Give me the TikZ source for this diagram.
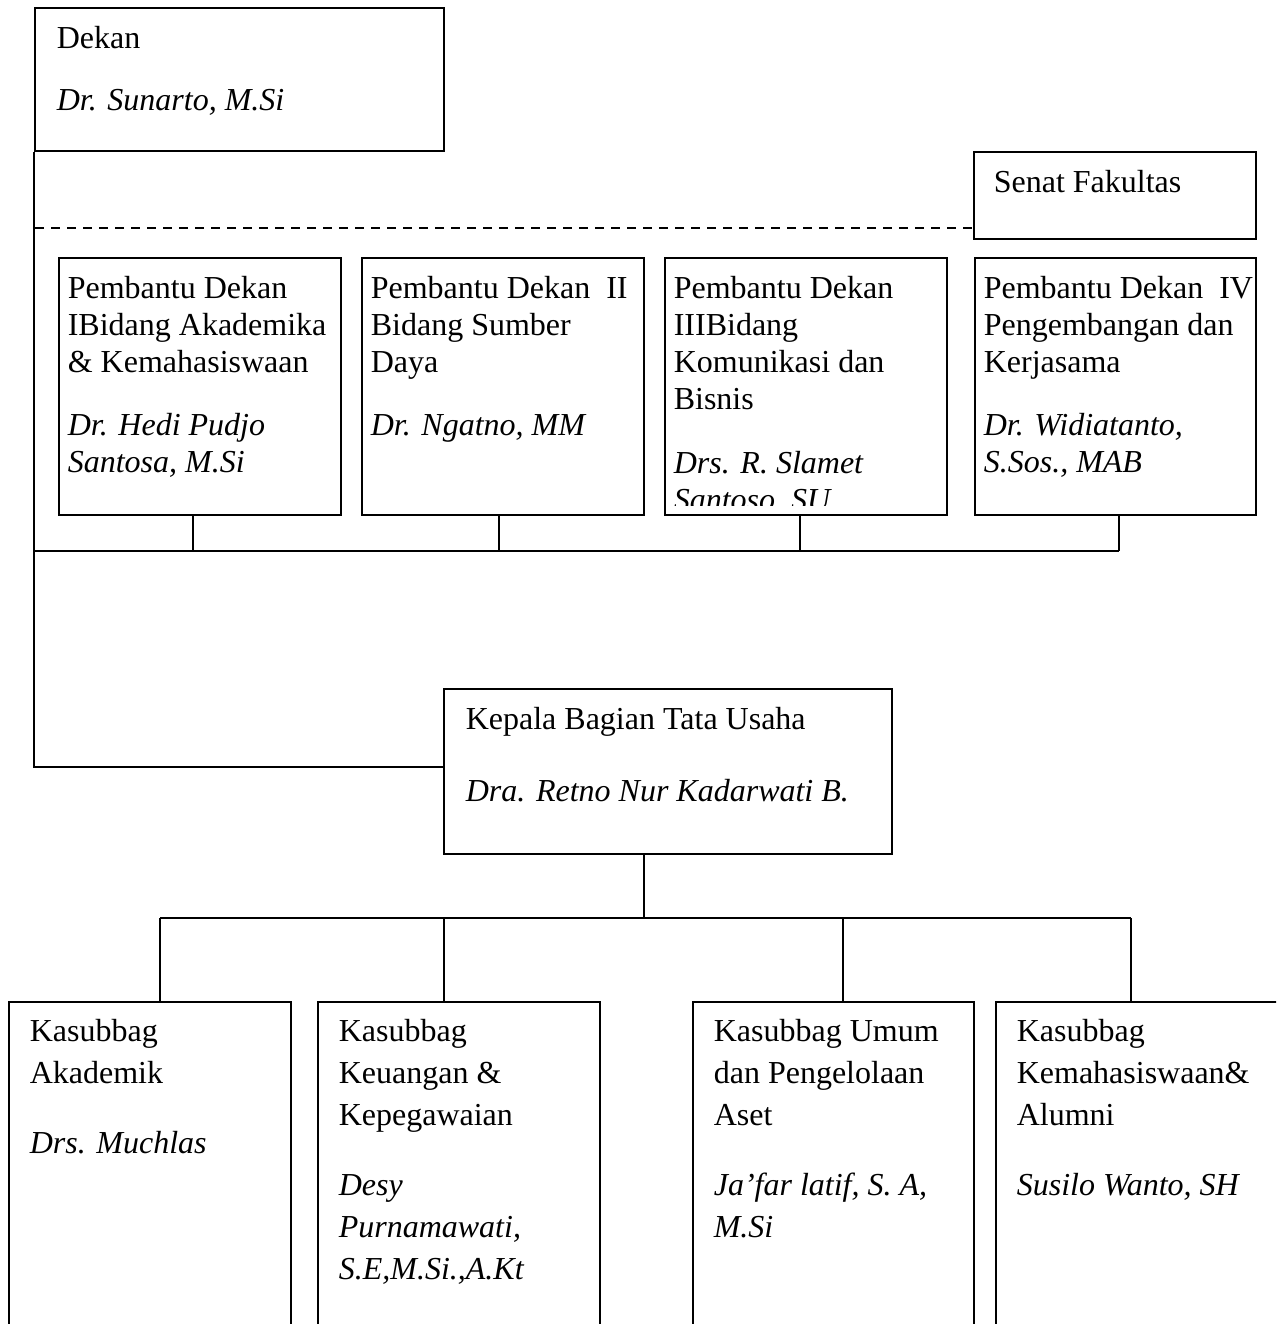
\documentclass[tikz,border=0pt]{standalone}
\usepackage{fontspec}
\setmainfont{Liberation Serif}
\usetikzlibrary{fit}
\begin{document}
\begin{tikzpicture}[x=0.5pt,y=-0.5pt,line width=0.8pt,
  box/.style={draw,rectangle,inner sep=0pt,fit={#1}},
  ttop/.style={anchor=base west,inner sep=0pt,font=\fontsize{16}{18.5}\selectfont},
  ntop/.style={anchor=base west,inner sep=0pt,font=\fontsize{16}{18.5}\selectfont\itshape},
  tbot/.style={anchor=base west,inner sep=0pt,font=\fontsize{16}{21}\selectfont},
  nbot/.style={anchor=base west,inner sep=0pt,font=\fontsize{16}{21}\selectfont\itshape},
  dashline/.style={dash pattern=on 4.5pt off 3.5pt}]
\clip (0,0) rectangle (1276,1324);
\fill[white] (0,0) rectangle (1276,1324);

% Dekan
\node[box={(35,8) (444,151)}] (dekan) {};
\node[ttop] (dekanT) at (56,48) {Dekan};
\node[ntop] (dekanN) at (56,110) {Dr. Sunarto, M.Si};

% Senat
\node[box={(974,152) (1256,239)}] (senat) {};
\node[ttop] (senatT) at (993,192) {Senat Fakultas};

% Pembantu Dekan boxes
\node[box={(59,258) (341,515)}] (pd1) {};
\node[box={(362,258) (644,515)}] (pd2) {};
\node[box={(665,258) (947,515)}] (pd3) {};
\node[box={(975,258) (1256,515)}] (pd4) {};

\node[ttop] (pd1T) at (67,298) {\parbox[t]{200pt}{Pembantu Dekan\\IBidang Akademika\\\& Kemahasiswaan}};
\node[ntop] (pd1N) at (67,435) {\parbox[t]{200pt}{Dr. Hedi Pudjo\\Santosa, M.Si}};

\node[ttop] (pd2T) at (370,298) {\parbox[t]{200pt}{Pembantu Dekan\ \ II\\Bidang Sumber\\Daya}};
\node[ntop] (pd2N) at (370,435) {Dr. Ngatno, MM};

\begin{scope}
\clip (665,258) rectangle (947,505);
\node[ttop] (pd3T) at (673,298) {\parbox[t]{200pt}{Pembantu Dekan\\IIIBidang\\Komunikasi dan\\Bisnis}};
\node[ntop] (pd3N) at (673,473) {\parbox[t]{200pt}{Drs. R. Slamet\\Santoso, SU}};
\end{scope}

\node[ttop] (pd4T) at (983,298) {\parbox[t]{200pt}{Pembantu Dekan\ \ IV\\Pengembangan dan\\Kerjasama}};
\node[ntop] (pd4N) at (983,435) {\parbox[t]{200pt}{Dr. Widiatanto,\\S.Sos., MAB}};

% Kepala Bagian
\node[box={(444,689) (892,854)}] (kep) {};
\node[ttop] (kepT) at (465,729) {Kepala Bagian Tata Usaha};
\node[ntop] (kepN) at (465,801) {Dra. Retno Nur Kadarwati B.};

% Kasubbag boxes (open below the page edge)
\node[box={(9,1002) (291,1345)}] (ka) {};
\node[box={(318,1002) (600,1345)}] (kb) {};
\node[box={(693,1002) (974,1345)}] (kc) {};
\node[box={(996,1002) (1300,1345)}] (kd) {};

\node[tbot] (kaT) at (29,1041) {\parbox[t]{200pt}{Kasubbag\\Akademik}};
\node[nbot] (kaN) at (29,1153) {Drs. Muchlas};

\node[tbot] (kbT) at (338,1041) {\parbox[t]{200pt}{Kasubbag\\Keuangan \&\\Kepegawaian}};
\node[nbot] (kbN) at (338,1195) {\parbox[t]{200pt}{Desy\\Purnamawati,\\S.E,M.Si.,A.Kt}};

\node[tbot] (kcT) at (713,1041) {\parbox[t]{200pt}{Kasubbag Umum\\dan Pengelolaan\\Aset}};
\node[nbot] (kcN) at (713,1195) {\parbox[t]{200pt}{Ja’far latif, S. A,\\M.Si}};

\node[tbot] (kdT) at (1016,1041) {\parbox[t]{200pt}{Kasubbag\\Kemahasiswaan\&\\Alumni}};
\node[nbot] (kdN) at (1016,1195) {Susilo Wanto, SH};

% Connectors
\coordinate (kl) at (35,767);
\draw (dekan.south west) -- (dekan.south west |- kl) -- (kl -| kep.west);

\coordinate (ds) at (35,228);
\draw[dashline] (ds) -- (ds -| senat.west);

\coordinate (pb) at (35,551);
\coordinate (p1) at (193,551);
\coordinate (p2) at (499,551);
\coordinate (p3) at (800,551);
\coordinate (p4) at (1119,551);
\draw (pb) -- (p4);
\draw (p1 |- pd1.south) -- (p1);
\draw (p2 |- pd2.south) -- (p2);
\draw (p3 |- pd3.south) -- (p3);
\draw (p4 |- pd4.south) -- (p4);

\coordinate (kd0) at (644,918);
\coordinate (k1) at (160,918);
\coordinate (k2) at (444,918);
\coordinate (k3) at (843,918);
\coordinate (k4) at (1131,918);
\draw (kd0 |- kep.south) -- (kd0);
\draw (k1) -- (k4);
\draw (k1) -- (k1 |- ka.north);
\draw (k2) -- (k2 |- kb.north);
\draw (k3) -- (k3 |- kc.north);
\draw (k4) -- (k4 |- kd.north);
\end{tikzpicture}
\end{document}
